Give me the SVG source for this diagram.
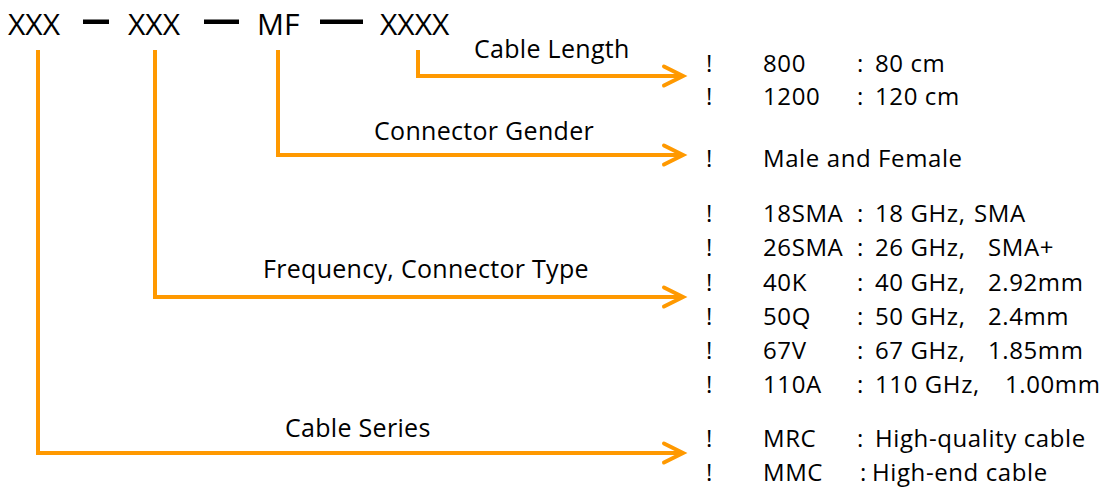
<svg xmlns="http://www.w3.org/2000/svg" width="1104" height="487" viewBox="0 0 1104 487">
<style>
text{font-family:"Open Sans","Noto Sans",sans-serif;fill:#000}
.hd{font-size:30px}
.lb{font-size:25px;letter-spacing:0.3px}
.it{font-size:24px;letter-spacing:0.6px}
.con{fill:none;stroke:#FF9900;stroke-width:4;stroke-linejoin:miter}
.dash{fill:#000}
</style>
<defs>
<marker id="arr" markerUnits="userSpaceOnUse" markerWidth="30" markerHeight="30" refX="22" refY="12" orient="auto" overflow="visible">
<path d="M3,2.5 L22,12 L3,21.5" fill="none" stroke="#FF9900" stroke-width="4" stroke-linecap="round"/>
</marker>
</defs>
<rect width="1104" height="487" fill="#fff"/>
<g id="code">
<text class="hd" x="8" y="35">XXX</text>
<rect class="dash" x="83" y="19.5" width="26" height="4.5"/>
<text class="hd" x="128" y="35">XXX</text>
<rect class="dash" x="204" y="19.5" width="35" height="4.5"/>
<text class="hd" x="257" y="35">MF</text>
<rect class="dash" x="320" y="19.5" width="43" height="4.5"/>
<text class="hd" x="380" y="35">XXXX</text>
</g>
<g id="connectors">
<path class="con" d="M418,50 V76 H683" marker-end="url(#arr)"/>
<path class="con" d="M278,50 V155 H683" marker-end="url(#arr)"/>
<path class="con" d="M155,50 V297 H683" marker-end="url(#arr)"/>
<path class="con" d="M38,50 V453 H683" marker-end="url(#arr)"/>
</g>
<g id="labels">
<text class="lb" x="474" y="58">Cable Length</text>
<text class="lb" x="374" y="140">Connector Gender</text>
<text class="lb" x="263" y="278">Frequency, Connector Type</text>
<text class="lb" x="285" y="437">Cable Series</text>
</g>
<g id="length-options">
<text class="it" x="706" y="72">!</text><text class="it" x="763" y="72">800</text><text class="it" x="857" y="72">:</text><text class="it" x="875" y="72">80 cm</text>
<text class="it" x="706" y="105">!</text><text class="it" x="763" y="105">1200</text><text class="it" x="857" y="105">:</text><text class="it" x="875" y="105">120 cm</text>
</g>
<g id="gender-options">
<text class="it" x="706" y="167">!</text><text class="it" x="763" y="167">Male and Female</text>
</g>
<g id="type-options">
<text class="it" x="706" y="222">!</text><text class="it" x="763" y="222">18SMA</text><text class="it" x="857" y="222">:</text><text class="it" x="875" y="222">18 GHz,</text><text class="it" x="974" y="222">SMA</text>
<text class="it" x="706" y="256">!</text><text class="it" x="763" y="256">26SMA</text><text class="it" x="857" y="256">:</text><text class="it" x="875" y="256">26 GHz,</text><text class="it" x="988" y="256">SMA+</text>
<text class="it" x="706" y="291">!</text><text class="it" x="763" y="291">40K</text><text class="it" x="857" y="291">:</text><text class="it" x="875" y="291">40 GHz,</text><text class="it" x="988" y="291">2.92mm</text>
<text class="it" x="706" y="325">!</text><text class="it" x="763" y="325">50Q</text><text class="it" x="857" y="325">:</text><text class="it" x="875" y="325">50 GHz,</text><text class="it" x="988" y="325">2.4mm</text>
<text class="it" x="706" y="359">!</text><text class="it" x="763" y="359">67V</text><text class="it" x="857" y="359">:</text><text class="it" x="875" y="359">67 GHz,</text><text class="it" x="988" y="359">1.85mm</text>
<text class="it" x="706" y="393">!</text><text class="it" x="763" y="393">110A</text><text class="it" x="857" y="393">:</text><text class="it" x="875" y="393">110 GHz,</text><text class="it" x="1005" y="393">1.00mm</text>
</g>
<g id="series-options">
<text class="it" x="706" y="447">!</text><text class="it" x="763" y="447">MRC</text><text class="it" x="857" y="447">:</text><text class="it" x="875" y="447">High-quality cable</text>
<text class="it" x="706" y="481">!</text><text class="it" x="763" y="481">MMC</text><text class="it" x="860" y="481">:</text><text class="it" x="872" y="481">High-end cable</text>
</g>
</svg>
